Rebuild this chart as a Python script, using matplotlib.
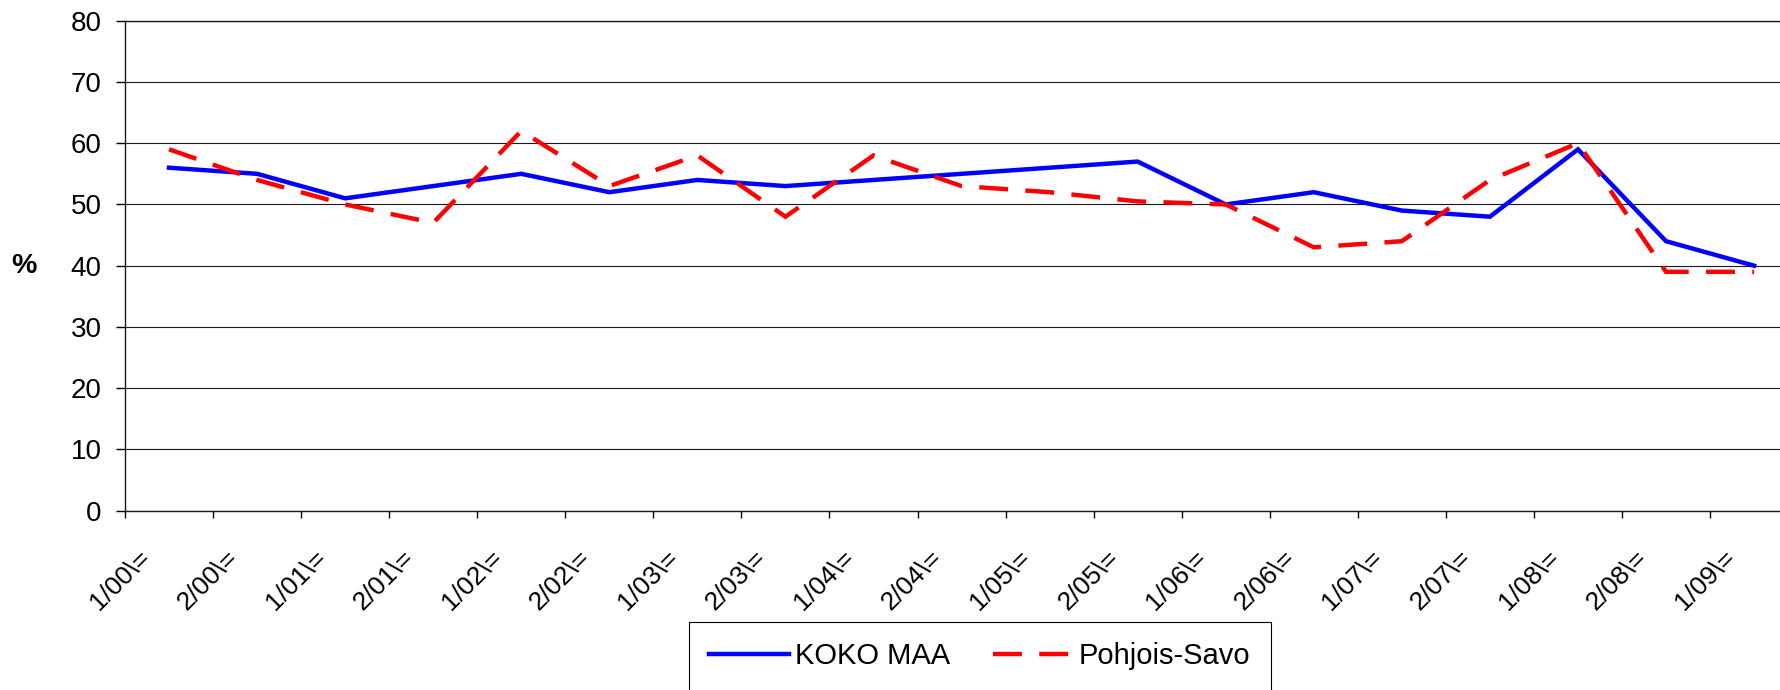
import numpy as np
import matplotlib
matplotlib.use("Agg")
import matplotlib.pyplot as plt
from matplotlib import font_manager
from matplotlib.transforms import ScaledTranslation

# half-year categories
labels = ['1/00\\=', '2/00\\=', '1/01\\=', '2/01\\=', '1/02\\=', '2/02\\=',
          '1/03\\=', '2/03\\=', '1/04\\=', '2/04\\=', '1/05\\=', '2/05\\=',
          '1/06\\=', '2/06\\=', '1/07\\=', '2/07\\=', '1/08\\=', '2/08\\=',
          '1/09\\=']
koko_maa = [56, 55, 51, 53, 55, 52, 54, 53, 54, 55, 56, 57,
            50, 52, 49, 48, 59, 44, 40]
pohjois_savo = [59, 54, 50, 47, 62, 53, 58, 48, 58, 53, 52, 50.5,
                50, 43, 44, 54, 60, 39, 39]
yticks = list(range(0, 90, 10))

# fonts: Arial-like for axes, narrow variant for the legend if present
names = {f.name for f in font_manager.fontManager.ttflist}
plt.rcParams['font.family'] = ['Liberation Sans', 'DejaVu Sans']
if 'Liberation Sans Narrow' in names:
    legend_font = {'family': 'Liberation Sans Narrow', 'size': 25}
else:
    legend_font = {'family': 'Liberation Sans', 'size': 21}

W, H = 1781, 690
fig = plt.figure(figsize=(W / 100, H / 100), dpi=100)
left, top, bottom = 125, 20.7, 510.7
ax = fig.add_axes([left / W, 1 - bottom / H, (W - left) / W, (bottom - top) / H])

x = np.arange(len(labels))
ax.plot(x, koko_maa, color='#0000FF', lw=3.2, label='KOKO MAA',
        solid_joinstyle='miter')
ax.plot(x, pohjois_savo, color='#FF0000', lw=3.2, label='Pohjois-Savo',
        dashes=(6.5, 3.9), dash_joinstyle='miter')

# category width is ~88 px; the plot runs off the right edge of the image
cat_px = 88.06
ax.set_xlim(-0.5, -0.5 + (W - left) / cat_px)
ax.set_ylim(0, 80)
ax.set_yticks(yticks)
ax.yaxis.grid(True, color='#1a1a1a', lw=0.8)
ax.set_axisbelow(True)

ax.set_xticks(np.arange(-0.5, len(labels) - 0.5, 1))
ax.set_xticklabels([])
ax.set_xticks(x, minor=True)
ax.set_xticklabels(labels, minor=True, rotation=45, ha='right', va='center',
                   rotation_mode='anchor', fontsize=19)
ax.tick_params(axis='x', which='major', length=5, width=1, direction='out')
ax.tick_params(axis='x', which='minor', length=0, pad=31)
shift = ScaledTranslation(-23 / 100, 0, fig.dpi_scale_trans)
for lab in ax.get_xticklabels(minor=True):
    lab.set_transform(lab.get_transform() + shift)

ax.tick_params(axis='y', length=6.7, width=1, pad=10, labelsize=20)

for side in ['left', 'bottom', 'top']:
    ax.spines[side].set_linewidth(1.0)
    ax.spines[side].set_color('#1a1a1a')
ax.spines['right'].set_visible(False)

ax.set_ylabel('%', rotation=0, fontsize=20.5, fontweight='bold',
              ha='center', va='center')
ax.yaxis.set_label_coords(-(left - 24) / (W - left), 0.5)

leg = ax.legend(loc='upper center', ncol=2, bbox_to_anchor=(980 / W, 1 - 622 / H),
                bbox_transform=fig.transFigure, prop=legend_font,
                frameon=True, fancybox=False, framealpha=1, edgecolor='black',
                borderpad=0.7, borderaxespad=0, handlelength=2.74,
                handletextpad=0.2, columnspacing=1.47)
leg.get_frame().set_linewidth(0.8)

fig.savefig('out.png', dpi=100)
